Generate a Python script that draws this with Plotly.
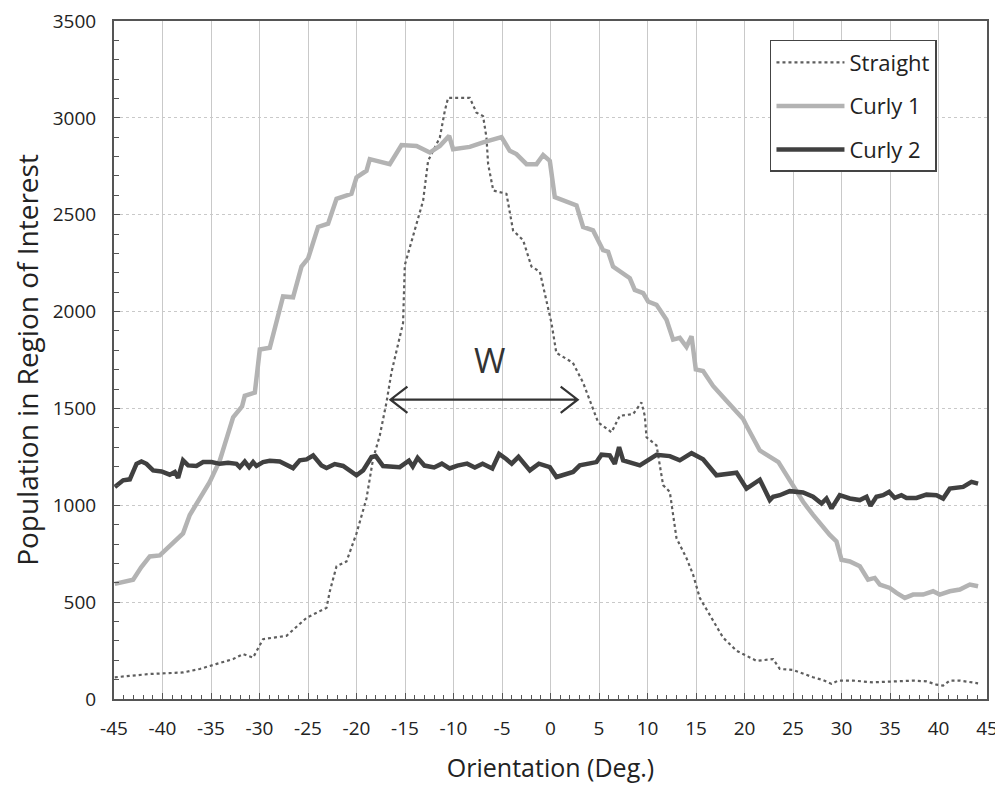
import plotly.graph_objects as go

# ---------------- data ----------------
straight_x = [-44.92, -43.03, -41.31, -37.88, -36.16, -34.5, -32.72, -31.69, -30.66, -29.63,
              -27.22, -25.15, -23.09, -22.75, -22.06, -21.03, -20.0, -18.97, -18.29, -17.6,
              -16.91, -16.4, -15.2, -15.02, -13.81, -13.13, -12.62, -11.41, -10.9, -10.56,
              -8.32, -7.63, -6.95, -6.6, -6.43, -5.9, -4.54, -3.86, -2.82, -1.96,
              -1.1, 0.1, 0.6, 2.3, 3.36, 4.91, 6.29, 7.14, 8.52, 9.38,
              9.72, 9.9, 10.93, 11.61, 12.3, 12.99, 14.02, 14.7, 15.39, 16.42,
              17.79, 19.18, 21.24, 22.95, 23.64, 25.01, 25.7, 27.07, 28.1, 28.97,
              29.65, 31.2, 33.26, 34.98, 37.38, 38.76, 39.79, 40.48, 41.16, 42.2,
              43.23, 44.08]
straight_y = [112, 120, 129, 137, 155, 180, 206, 232, 214, 309,
              326, 419, 471, 556, 685, 710, 855, 1035, 1240, 1360,
              1531, 1685, 1941, 2240, 2454, 2573, 2778, 2898, 3035, 3103,
              3103, 3027, 3009, 2898, 2761, 2625, 2608, 2419, 2368, 2232,
              2206, 1941, 1787, 1736, 1633, 1428, 1377, 1462, 1471, 1531,
              1462, 1351, 1309, 1104, 1069, 830, 727, 642, 522, 437,
              317, 249, 197, 206, 155, 150, 137, 112, 98, 78,
              95, 95, 86, 91, 95, 91, 74, 69, 95, 95,
              86, 81]

curly1_x = [-44.92, -43.03, -42.2, -41.31, -40.28, -39.2, -38.22, -37.88, -37.19, -36.16,
            -35.13, -34.09, -33.4, -32.72, -31.8, -31.52, -30.48, -29.97, -28.94, -27.57,
            -26.54, -25.67, -24.99, -23.96, -22.93, -22.06, -20.52, -20.0, -18.97, -18.63,
            -16.57, -15.36, -13.81, -12.44, -11.41, -10.45, -10.04, -8.32, -6.95, -5.05,
            -4.2, -3.51, -2.47, -1.44, -0.76, -0.07, 0.44, 1.3, 2.68, 3.36,
            4.39, 5.42, 5.94, 6.45, 7.14, 8.18, 8.69, 9.55, 10.06, 10.93,
            11.96, 12.64, 13.33, 14.02, 14.54, 14.98, 15.73, 16.76, 18.14, 19.86,
            20.21, 21.58, 23.5, 25.01, 26.04, 27.07, 28.45, 28.79, 29.48, 30.0,
            30.86, 31.89, 32.74, 33.43, 33.95, 34.98, 35.67, 36.53, 37.38, 38.41,
            39.44, 40.13, 41.16, 42.2, 43.23, 44.08]
curly1_y = [594, 616, 680, 736, 741, 790, 838, 855, 950, 1035,
            1120, 1232, 1342, 1454, 1510, 1565, 1582, 1804, 1813, 2078,
            2074, 2232, 2274, 2437, 2454, 2582, 2608, 2693, 2727, 2787,
            2761, 2860, 2855, 2821, 2855, 2907, 2838, 2850, 2873, 2901,
            2830, 2813, 2761, 2761, 2808, 2778, 2591, 2573, 2548, 2437,
            2419, 2317, 2309, 2232, 2206, 2172, 2112, 2095, 2052, 2035,
            1958, 1855, 1864, 1818, 1873, 1701, 1693, 1616, 1539, 1445,
            1411, 1283, 1223, 1095, 1018, 950, 864, 847, 813, 719,
            710, 685, 616, 625, 591, 573, 548, 522, 539, 539,
            556, 539, 556, 565, 591, 582]

curly2_x = [-44.92, -44.06, -43.37, -42.68, -42.17, -41.65, -40.97, -40.1, -39.25, -38.73,
            -38.39, -37.88, -37.36, -36.5, -35.81, -34.95, -34.09, -33.24, -32.37, -32.03,
            -31.52, -31.07, -30.66, -30.31, -29.63, -28.94, -27.91, -27.22, -26.54, -25.85,
            -25.15, -24.47, -23.61, -23.09, -22.24, -21.38, -20.35, -20.0, -19.32, -18.45,
            -18.01, -17.26, -15.54, -14.6, -14.2, -13.7, -13.0, -12.0, -11.2, -10.4,
            -9.6, -8.6, -7.8, -7.0, -6.0, -5.3, -4.6, -4.0, -3.3, -2.13,
            -1.2, -0.07, 0.62, 2.33, 3.02, 4.74, 5.26, 6.11, 6.63, 7.07,
            7.49, 9.21, 10.93, 12.3, 13.33, 14.54, 15.73, 17.11, 19.18, 20.21,
            21.58, 22.61, 22.95, 23.63, 24.66, 26.04, 27.07, 27.94, 28.45, 28.97,
            29.82, 30.86, 31.89, 32.58, 32.99, 33.6, 34.29, 34.91, 35.49, 36.18,
            36.7, 37.73, 38.76, 39.79, 40.48, 41.16, 42.54, 43.4, 44.08]
curly2_y = [1095, 1129, 1134, 1214, 1226, 1214, 1180, 1175, 1158, 1172,
            1141, 1232, 1206, 1203, 1223, 1223, 1214, 1219, 1214, 1197,
            1226, 1197, 1223, 1203, 1223, 1230, 1226, 1209, 1192, 1232,
            1237, 1257, 1206, 1192, 1213, 1203, 1163, 1155, 1180, 1249,
            1254, 1203, 1197, 1230, 1200, 1245, 1205, 1195, 1215, 1190,
            1205, 1215, 1195, 1215, 1190, 1265, 1240, 1215, 1250, 1180,
            1215, 1197, 1146, 1172, 1206, 1223, 1261, 1257, 1214, 1300,
            1232, 1206, 1261, 1254, 1232, 1269, 1237, 1155, 1168, 1086,
            1132, 1027, 1044, 1052, 1073, 1066, 1044, 1009, 1035, 984,
            1052, 1035, 1027, 1044, 997, 1044, 1052, 1069, 1038, 1052,
            1038, 1038, 1055, 1052, 1035, 1086, 1095, 1121, 1112]

series_names = ["Straight", "Curly 1", "Curly 2"]
x_ticks = list(range(-45, 46, 5))
y_ticks = list(range(0, 3501, 500))

# W annotation (width marker)
w_left, w_right, w_level = -16.5, 2.8, 1545
w_label_x, w_label_y = -6.3, 1750

FONT = "Open Sans"

fig = go.Figure()
fig.add_trace(go.Scatter(x=straight_x, y=straight_y, name=series_names[0], mode="lines",
                         legendgroup="a",
                         line=dict(color="#5e5e5e", width=2.2, dash="dot")))
fig.add_trace(go.Scatter(x=curly1_x, y=curly1_y, name=series_names[1], mode="lines",
                         legendgroup="b",
                         line=dict(color="#b3b3b3", width=4.5)))
fig.add_trace(go.Scatter(x=curly2_x, y=curly2_y, name=series_names[2], mode="lines",
                         legendgroup="c",
                         line=dict(color="#404040", width=4.5)))

# double-headed arrow
hx, hy = 1.75, 68
path = (f"M {w_left},{w_level} L {w_right},{w_level} "
        f"M {w_left + hx},{w_level + hy} L {w_left},{w_level} L {w_left + hx},{w_level - hy} "
        f"M {w_right - hx},{w_level + hy} L {w_right},{w_level} L {w_right - hx},{w_level - hy}")
fig.add_shape(type="path", path=path, xref="x", yref="y",
              line=dict(color="#333333", width=2.2))
fig.add_annotation(x=w_label_x, y=w_label_y, text="W", showarrow=False,
                   font=dict(family=FONT, size=34, color="#333333"))

# page body has an 8px margin, so the figure is sized/positioned to compensate
fig.update_layout(
    width=995, height=777,
    margin=dict(l=106, r=16, t=13, b=86, autoexpand=False),
    paper_bgcolor="white", plot_bgcolor="white",
    font=dict(family=FONT, color="#222222"),
    showlegend=True,
    legend=dict(x=0.7514, y=0.972, xanchor="left", yanchor="top",
                bgcolor="white", bordercolor="#444444", borderwidth=1.5,
                font=dict(family=FONT, size=22, color="#222222"),
                itemwidth=68, tracegroupgap=12,
                entrywidth=135, entrywidthmode="pixels"),
    xaxis=dict(
        range=[-45, 45], tickvals=x_ticks, ticktext=[str(v) for v in x_ticks],
        automargin=False, ticklabeloverflow="allow",
        showgrid=True, gridcolor="#c9c9c9", gridwidth=1,
        showline=True, linecolor="#555555", linewidth=2, mirror=True,
        ticks="inside", ticklen=6, tickcolor="#555555", tickwidth=1,
        minor=dict(dtick=1, tick0=0, ticks="inside", ticklen=4, tickcolor="#555555", showgrid=False),
        tickfont=dict(family=FONT, size=19, color="#222222"),
        ticklabelstandoff=11,
        zeroline=False,
        title=dict(text="Orientation (Deg.)", font=dict(family=FONT, size=25, color="#222222"),
                   standoff=20),
    ),
    yaxis=dict(
        range=[0, 3500], tickvals=y_ticks, ticktext=[str(v) for v in y_ticks],
        automargin=False, ticklabeloverflow="allow",
        showgrid=True, gridcolor="#c9c9c9", gridwidth=1, griddash="dot",
        showline=True, linecolor="#555555", linewidth=2, mirror=True,
        ticks="inside", ticklen=6, tickcolor="#555555", tickwidth=1,
        minor=dict(dtick=100, tick0=0, ticks="inside", ticklen=5, tickcolor="#555555", showgrid=False),
        tickfont=dict(family=FONT, size=19, color="#222222"),
        ticklabelstandoff=12,
        zeroline=False,
        title=dict(text="Population in Region of Interest",
                   font=dict(family=FONT, size=28, color="#222222"), standoff=14),
    ),
)

fig.write_html("out.html")
